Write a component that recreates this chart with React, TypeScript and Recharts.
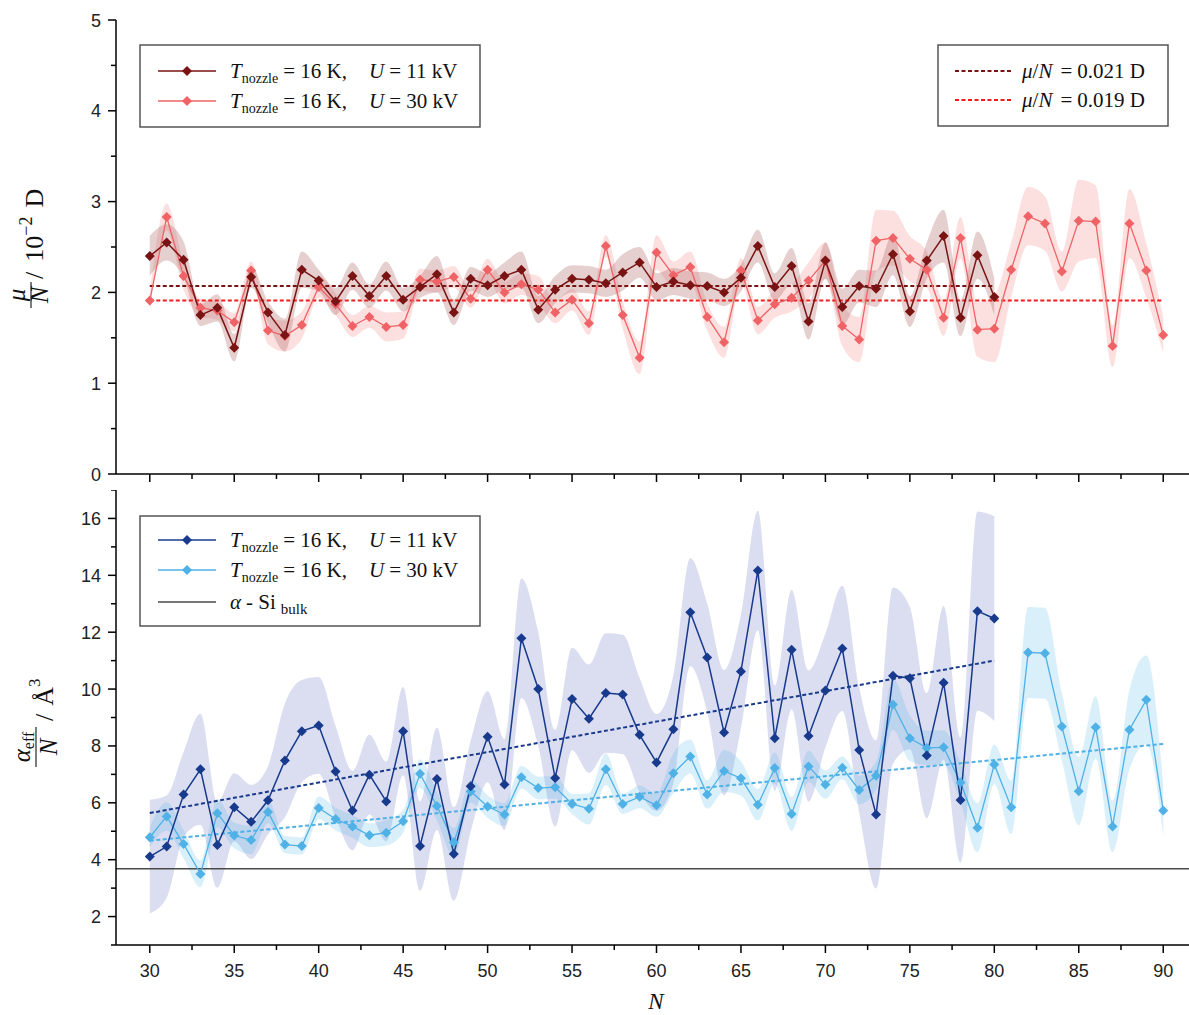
import React from "react";
import { ComposedChart, Line, Area, XAxis, YAxis, ReferenceLine } from "recharts";

// cluster size N
const N_VALUES = [
  30, 31, 32, 33, 34, 35, 36, 37, 38, 39, 40, 41, 42, 43, 44, 45, 46, 47, 48, 49,
  50, 51, 52, 53, 54, 55, 56, 57, 58, 59, 60, 61, 62, 63, 64, 65, 66, 67, 68, 69,
  70, 71, 72, 73, 74, 75, 76, 77, 78, 79, 80, 81, 82, 83, 84, 85, 86, 87, 88, 89, 90,
];

// mu/N (10^-2 D), U = 11 kV, N = 30..80
const MU_11 = [
  2.40, 2.55, 2.36, 1.75, 1.83, 1.39, 2.17, 1.78, 1.53, 2.25,
  2.13, 1.90, 2.18, 1.96, 2.18, 1.92, 2.06, 2.20, 1.78, 2.15,
  2.08, 2.18, 2.25, 1.81, 2.03, 2.15, 2.14, 2.10, 2.22, 2.33,
  2.06, 2.12, 2.08, 2.07, 2.00, 2.16, 2.51, 2.06, 2.29, 1.68,
  2.35, 1.84, 2.07, 2.04, 2.42, 1.79, 2.35, 2.62, 1.72, 2.41, 1.95,
];
const MU_11_ERR = [
  0.22, 0.2, 0.2, 0.12, 0.15, 0.15, 0.12, 0.12, 0.18, 0.2,
  0.12, 0.15, 0.15, 0.13, 0.16, 0.13, 0.12, 0.2, 0.14, 0.13,
  0.13, 0.15, 0.2, 0.15, 0.15, 0.15, 0.15, 0.15, 0.2, 0.17,
  0.15, 0.15, 0.15, 0.15, 0.15, 0.15, 0.18, 0.15, 0.2, 0.2,
  0.2, 0.2, 0.18, 0.2, 0.23, 0.17, 0.2, 0.29, 0.2, 0.26, 0.2,
];
// mu/N, U = 30 kV, N = 30..90
const MU_30 = [
  1.91, 2.83, 2.18, 1.83, 1.80, 1.67, 2.24, 1.58, 1.52, 1.64,
  2.06, 1.87, 1.63, 1.73, 1.62, 1.64, 2.14, 2.12, 2.17, 1.93,
  2.25, 2.00, 2.09, 2.03, 1.78, 1.92, 1.66, 2.51, 1.75, 1.28,
  2.44, 2.19, 2.28, 1.73, 1.45, 2.24, 1.69, 1.87, 1.94, 2.13,
  2.35, 1.63, 1.48, 2.57, 2.60, 2.37, 2.25, 1.72, 2.60, 1.59,
  1.60, 2.25, 2.84, 2.76, 2.23, 2.79, 2.78, 1.41, 2.76, 2.24, 1.53,
];
const MU_30_ERR = [
  0.1, 0.15, 0.15, 0.1, 0.1, 0.1, 0.1, 0.15, 0.17, 0.15,
  0.12, 0.12, 0.12, 0.12, 0.16, 0.15, 0.12, 0.12, 0.12, 0.1,
  0.12, 0.12, 0.12, 0.15, 0.12, 0.12, 0.13, 0.12, 0.15, 0.18,
  0.19, 0.15, 0.17, 0.15, 0.17, 0.14, 0.15, 0.15, 0.15, 0.2,
  0.2, 0.22, 0.25, 0.34, 0.3, 0.25, 0.2, 0.2, 0.23, 0.3,
  0.37, 0.3, 0.32, 0.3, 0.22, 0.45, 0.4, 0.23, 0.38, 0.3, 0.2,
];
// mean values mu/N
const MU_FIT_11 = 2.07;
const MU_FIT_30 = 1.91;

// alpha_eff/N (A^3), U = 11 kV, N = 30..80
const ALPHA_11 = [
  4.11, 4.46, 6.29, 7.18, 4.52, 5.84, 5.33, 6.09, 7.49, 8.52,
  8.72, 7.10, 5.73, 6.99, 6.05, 8.52, 4.48, 6.84, 4.20, 6.58,
  8.32, 6.64, 11.79, 10.00, 6.87, 9.65, 8.96, 9.86, 9.81, 8.39,
  7.42, 8.59, 12.70, 11.11, 8.47, 10.62, 14.17, 8.27, 11.38, 8.35,
  9.95, 11.43, 7.86, 5.59, 10.47, 10.38, 7.66, 10.22, 6.10, 12.74, 12.48,
];
const ALPHA_11_ERR = [
  2.0, 1.8, 1.5, 1.95, 1.5, 1.2, 1.3, 1.2, 2.0, 1.8,
  1.7, 1.6, 1.4, 1.4, 1.4, 1.55, 1.57, 1.8, 1.64, 1.6,
  1.6, 1.6, 2.1, 2.0, 1.7, 1.8, 1.9, 2.1, 2.1, 2.0,
  1.7, 1.9, 1.9, 1.9, 2.2, 2.0, 2.1, 1.85, 2.1, 2.3,
  2.0, 2.2, 2.2, 2.6, 3.1, 2.5, 2.2, 2.7, 2.2, 3.5, 3.6,
];
// alpha_eff/N, U = 30 kV, N = 30..90
const ALPHA_30 = [
  4.79, 5.52, 4.55, 3.50, 5.63, 4.85, 4.69, 5.68, 4.53, 4.48,
  5.82, 5.43, 5.17, 4.86, 4.95, 5.35, 7.02, 5.89, 4.61, 6.40,
  5.87, 5.59, 6.90, 6.52, 6.55, 5.96, 5.79, 7.18, 5.96, 6.21,
  5.91, 7.04, 7.63, 6.29, 7.12, 6.86, 5.93, 7.22, 5.61, 7.28,
  6.64, 7.23, 6.45, 6.95, 9.46, 8.27, 7.93, 7.95, 6.71, 5.12,
  7.35, 5.84, 11.29, 11.26, 8.68, 6.41, 8.66, 5.17, 8.57, 9.62, 5.73,
];
const ALPHA_30_ERR = [
  0.35, 0.5, 0.5, 0.47, 0.5, 0.45, 0.5, 0.4, 0.3, 0.3,
  0.4, 0.4, 0.4, 0.42, 0.45, 0.4, 0.5, 0.5, 0.5, 0.4,
  0.4, 0.4, 0.4, 0.4, 0.4, 0.35, 0.55, 0.55, 0.35, 0.4,
  0.4, 0.7, 0.6, 0.5, 0.74, 0.6, 0.55, 0.55, 0.6, 0.55,
  0.5, 0.4, 0.5, 0.5, 0.9, 0.8, 0.6, 0.6, 0.7, 0.86,
  0.7, 0.94, 1.6, 1.6, 1.2, 1.2, 1.1, 0.9, 1.4, 1.56, 0.9,
];
// linear trends [N, alpha/N]
const ALPHA_FIT_11 = [[30, 5.64], [80, 11.0]];
const ALPHA_FIT_30 = [[30, 4.67], [90, 8.07]];
const ALPHA_BULK = 3.68;

const X_TICKS = [30, 32.5, 35, 37.5, 40, 42.5, 45, 47.5, 50, 52.5, 55, 57.5, 60, 62.5, 65, 67.5, 70, 72.5, 75, 77.5, 80, 82.5, 85, 87.5, 90];
const MU_TICKS = [0, 0.5, 1, 1.5, 2, 2.5, 3, 3.5, 4, 4.5, 5];
const ALPHA_TICKS = [1, 2, 3, 4, 5, 6, 7, 8, 9, 10, 11, 12, 13, 14, 15, 16, 17];

const C = {
  red11: "#7a1313",
  red30: "#ef6366",
  redDash30: "#f01c1c",
  blue11: "#183a8c",
  blue30: "#4fb1e6",
  bulk: "#4a4a4a",
};

const band = (v: number[], e: number[], i: number) =>
  v[i] == null ? undefined : [v[i] - e[i], v[i] + e[i]];

const rows = N_VALUES.map((n, i) => ({
  n,
  mu11: MU_11[i],
  mu11Band: band(MU_11, MU_11_ERR, i),
  mu30: MU_30[i],
  mu30Band: band(MU_30, MU_30_ERR, i),
  a11: ALPHA_11[i],
  a11Band: band(ALPHA_11, ALPHA_11_ERR, i),
  a30: ALPHA_30[i],
  a30Band: band(ALPHA_30, ALPHA_30_ERR, i),
}));

const sans = "'Liberation Sans', Arial, sans-serif";
const serif = "'Liberation Serif', 'Times New Roman', serif";
const CHART_W = 1200;

const diamond = (color: string, r: number) => (p: any) => {
  const { cx, cy, index, value } = p;
  if (cx == null || cy == null || value == null) return <g key={index} />;
  return (
    <path
      key={index}
      d={`M${cx},${cy - r}L${cx + r},${cy}L${cx},${cy + r}L${cx - r},${cy}Z`}
      fill={color}
    />
  );
};

// ticks drawn by hand so minor ticks get shorter marks
const xTick = (labels: boolean) => (p: any) => {
  const { x, y, payload } = p;
  const v = payload.value;
  const major = v % 5 === 0;
  return (
    <g>
      <line x1={x} y1={y} x2={x} y2={y + (major ? 8 : 5)} stroke="#000" strokeWidth={1.5} />
      {labels && major && (
        <text x={x} y={y + 32} textAnchor="middle" fontSize={18} fontFamily={sans} fill="#222">
          {v}
        </text>
      )}
    </g>
  );
};

const yTick = (labels: boolean, isMajor: (v: number) => boolean) => (p: any) => {
  const { x, y, payload } = p;
  const v = payload.value;
  const major = isMajor(v);
  return (
    <g>
      <line x1={x} y1={y} x2={x - (major ? 8 : 5)} y2={y} stroke="#000" strokeWidth={1.5} />
      {labels && major && (
        <text x={x - 15} y={y + 6.5} textAnchor="end" fontSize={18} fontFamily={sans} fill="#222">
          {v}
        </text>
      )}
    </g>
  );
};

const axisLine = { stroke: "#000", strokeWidth: 1.5 };

function Axes({ domain, ticks, isMajor, xHeight, xLabels }: any) {
  return [
    <XAxis key="xb" xAxisId="x" dataKey="n" type="number" domain={[28, 92]} ticks={X_TICKS}
      interval={0} height={xHeight} tickSize={0} tickMargin={0} tickLine={false}
      axisLine={axisLine} tick={xTick(xLabels)} />,
    <XAxis key="xt" xAxisId="xt" orientation="top" dataKey="n" type="number" domain={[28, 92]}
      ticks={X_TICKS} interval={0} height={0} tickSize={0} tickMargin={0} tickLine={false}
      axisLine={axisLine} tick={xTick(false)} />,
    <YAxis key="yl" yAxisId="y" type="number" domain={domain} ticks={ticks} interval={0}
      width={116} tickSize={0} tickMargin={0} tickLine={false} axisLine={axisLine}
      tick={yTick(true, isMajor)} />,
    <YAxis key="yr" yAxisId="yr" orientation="right" type="number" domain={domain} ticks={ticks}
      interval={0} width={0} tickSize={0} tickMargin={0} tickLine={false} axisLine={axisLine}
      tick={yTick(false, isMajor)} />,
  ];
}

function MuChart() {
  return (
    <ComposedChart width={CHART_W} height={490} data={rows}
      margin={{ top: 20, right: 3, bottom: 0, left: 0 }}>
      {Axes({ domain: [0, 5], ticks: MU_TICKS, isMajor: (v: number) => v % 1 === 0, xHeight: 16, xLabels: false })}
      <Area xAxisId="x" yAxisId="y" dataKey="mu30Band" type="monotone" stroke="none"
        fill="#f07070" fillOpacity={0.22} isAnimationActive={false} activeDot={false} />
      <Area xAxisId="x" yAxisId="y" dataKey="mu11Band" type="monotone" stroke="none"
        fill="#a86060" fillOpacity={0.3} isAnimationActive={false} activeDot={false} />
      <ReferenceLine xAxisId="x" yAxisId="y" segment={[{ x: 30, y: MU_FIT_11 }, { x: 80, y: MU_FIT_11 }]}
        stroke={C.red11} strokeWidth={2} strokeDasharray="4 2.5" />
      <ReferenceLine xAxisId="x" yAxisId="y" segment={[{ x: 30, y: MU_FIT_30 }, { x: 90, y: MU_FIT_30 }]}
        stroke={C.redDash30} strokeWidth={2} strokeDasharray="4 2.5" />
      <Line xAxisId="x" yAxisId="y" dataKey="mu30" type="linear" stroke={C.red30} strokeWidth={1.3}
        dot={diamond(C.red30, 5)} activeDot={false} isAnimationActive={false} />
      <Line xAxisId="x" yAxisId="y" dataKey="mu11" type="linear" stroke={C.red11} strokeWidth={1.5}
        dot={diamond(C.red11, 5)} activeDot={false} isAnimationActive={false} />
    </ComposedChart>
  );
}

function AlphaChart() {
  return (
    <ComposedChart width={CHART_W} height={525} data={rows}
      margin={{ top: 0, right: 3, bottom: 0, left: 0 }}>
      {Axes({ domain: [1, 17], ticks: ALPHA_TICKS, isMajor: (v: number) => v % 2 === 0, xHeight: 70, xLabels: true })}
      <Area xAxisId="x" yAxisId="y" dataKey="a11Band" type="monotone" stroke="none"
        fill="#7078c8" fillOpacity={0.25} isAnimationActive={false} activeDot={false} />
      <Area xAxisId="x" yAxisId="y" dataKey="a30Band" type="monotone" stroke="none"
        fill="#50b4ea" fillOpacity={0.22} isAnimationActive={false} activeDot={false} />
      <ReferenceLine xAxisId="x" yAxisId="y" y={ALPHA_BULK} stroke={C.bulk} strokeWidth={1.6} />
      <ReferenceLine xAxisId="x" yAxisId="y"
        segment={[{ x: ALPHA_FIT_11[0][0], y: ALPHA_FIT_11[0][1] }, { x: ALPHA_FIT_11[1][0], y: ALPHA_FIT_11[1][1] }]}
        stroke={C.blue11} strokeWidth={2} strokeDasharray="4 2.5" />
      <ReferenceLine xAxisId="x" yAxisId="y"
        segment={[{ x: ALPHA_FIT_30[0][0], y: ALPHA_FIT_30[0][1] }, { x: ALPHA_FIT_30[1][0], y: ALPHA_FIT_30[1][1] }]}
        stroke={C.blue30} strokeWidth={2} strokeDasharray="4 2.5" />
      <Line xAxisId="x" yAxisId="y" dataKey="a30" type="linear" stroke={C.blue30} strokeWidth={1.3}
        dot={diamond(C.blue30, 5)} activeDot={false} isAnimationActive={false} />
      <Line xAxisId="x" yAxisId="y" dataKey="a11" type="linear" stroke={C.blue11} strokeWidth={1.5}
        dot={diamond(C.blue11, 5)} activeDot={false} isAnimationActive={false} />
    </ComposedChart>
  );
}

function Diamond({ x, y, color }: any) {
  return <path d={`M${x},${y - 5}L${x + 5},${y}L${x},${y + 5}L${x - 5},${y}Z`} fill={color} />;
}

function TLabel({ x, y, u }: any) {
  return (
    <text x={x} y={y} fontFamily={serif} fontSize={21} fill="#111">
      <tspan fontStyle="italic">T</tspan>
      <tspan fontSize={14} dy={5}>nozzle</tspan>
      <tspan dy={-5} dx={5}>= 16 K,</tspan>
      <tspan dx={22} fontStyle="italic">U</tspan>
      <tspan dx={5}>= {u} kV</tspan>
    </text>
  );
}

function MuLabel({ x, y, v }: any) {
  return (
    <text x={x} y={y} fontFamily={serif} fontSize={21} fill="#111">
      <tspan fontStyle="italic">μ</tspan>/<tspan fontStyle="italic">N</tspan>
      <tspan dx={8}>=</tspan>
      <tspan dx={5}>{v} D</tspan>
    </text>
  );
}

function Overlay() {
  return (
    <svg width={1189} height={1015} style={{ position: "absolute", left: 0, top: 0, pointerEvents: "none" }}>
      {/* top-left legend */}
      <rect x={140} y={45} width={340} height={82} fill="#fff" stroke="#555" strokeWidth={1.5} />
      <line x1={158} y1={71} x2={216} y2={71} stroke={C.red11} strokeWidth={1.5} />
      <Diamond x={187} y={71} color={C.red11} />
      <TLabel x={230} y={78} u={11} />
      <line x1={158} y1={101} x2={216} y2={101} stroke={C.red30} strokeWidth={1.5} />
      <Diamond x={187} y={101} color={C.red30} />
      <TLabel x={230} y={108} u={30} />

      {/* top-right legend */}
      <rect x={938} y={45} width={230} height={81} fill="#fff" stroke="#555" strokeWidth={1.5} />
      <line x1={955} y1={71} x2={1012} y2={71} stroke={C.red11} strokeWidth={2} strokeDasharray="4 2.5" />
      <MuLabel x={1022} y={78} v="0.021" />
      <line x1={955} y1={100} x2={1012} y2={100} stroke={C.redDash30} strokeWidth={2} strokeDasharray="4 2.5" />
      <MuLabel x={1022} y={107} v="0.019" />

      {/* bottom legend */}
      <rect x={140} y={516} width={340} height={110} fill="#fff" stroke="#555" strokeWidth={1.5} />
      <line x1={158} y1={540} x2={216} y2={540} stroke={C.blue11} strokeWidth={1.5} />
      <Diamond x={187} y={540} color={C.blue11} />
      <TLabel x={230} y={547} u={11} />
      <line x1={158} y1={570} x2={216} y2={570} stroke={C.blue30} strokeWidth={1.5} />
      <Diamond x={187} y={570} color={C.blue30} />
      <TLabel x={230} y={577} u={30} />
      <line x1={158} y1={602} x2={216} y2={602} stroke="#777" strokeWidth={2} />
      <text x={230} y={609} fontFamily={serif} fontSize={21} fill="#111">
        <tspan fontStyle="italic">α</tspan>
        <tspan dx={5}>- Si</tspan>
        <tspan dx={5} fontSize={15} dy={5}>bulk</tspan>
      </text>

      {/* y label top */}
      <g transform="translate(45,245) rotate(-90)" fontFamily={serif} fill="#111">
        <text x={-50} y={-20} textAnchor="middle" fontSize={25} fontStyle="italic">μ</text>
        <line x1={-63} y1={-14} x2={-37} y2={-14} stroke="#111" strokeWidth={1.1} />
        <text x={-50} y={3} textAnchor="middle" fontSize={25} fontStyle="italic">N</text>
        <text x={-34} y={-2} fontSize={26}>
          /<tspan dx={10}>10</tspan>
          <tspan fontSize={18} dy={-11}>−2</tspan>
          <tspan dx={9} dy={11}>D</tspan>
        </text>
      </g>

      {/* y label bottom */}
      <g transform="translate(45,719) rotate(-90)" fontFamily={serif} fill="#111">
        <text x={-28} y={-15} textAnchor="middle" fontSize={25}>
          <tspan fontStyle="italic">α</tspan>
          <tspan fontSize={16} dy={4}>eff</tspan>
        </text>
        <line x1={-48} y1={-9} x2={-8} y2={-9} stroke="#111" strokeWidth={1.1} />
        <text x={-28} y={12} textAnchor="middle" fontSize={25} fontStyle="italic">N</text>
        <text x={-2} y={8} fontSize={26}>
          /<tspan dx={8}>Å</tspan>
          <tspan fontSize={17} dy={-13}>3</tspan>
        </text>
      </g>

      {/* x label */}
      <text x={656} y={1009} textAnchor="middle" fontFamily={serif} fontSize={23} fontStyle="italic" fill="#111">
        N
      </text>
    </svg>
  );
}

export default function App() {
  return (
    <div style={{ position: "absolute", left: 0, top: 0, width: 1189, height: 1015, overflow: "hidden", background: "#fff" }}>
      <div style={{ position: "absolute", left: 0, top: 0 }}>
        <MuChart />
      </div>
      <div style={{ position: "absolute", left: 0, top: 490 }}>
        <AlphaChart />
      </div>
      <Overlay />
    </div>
  );
}
